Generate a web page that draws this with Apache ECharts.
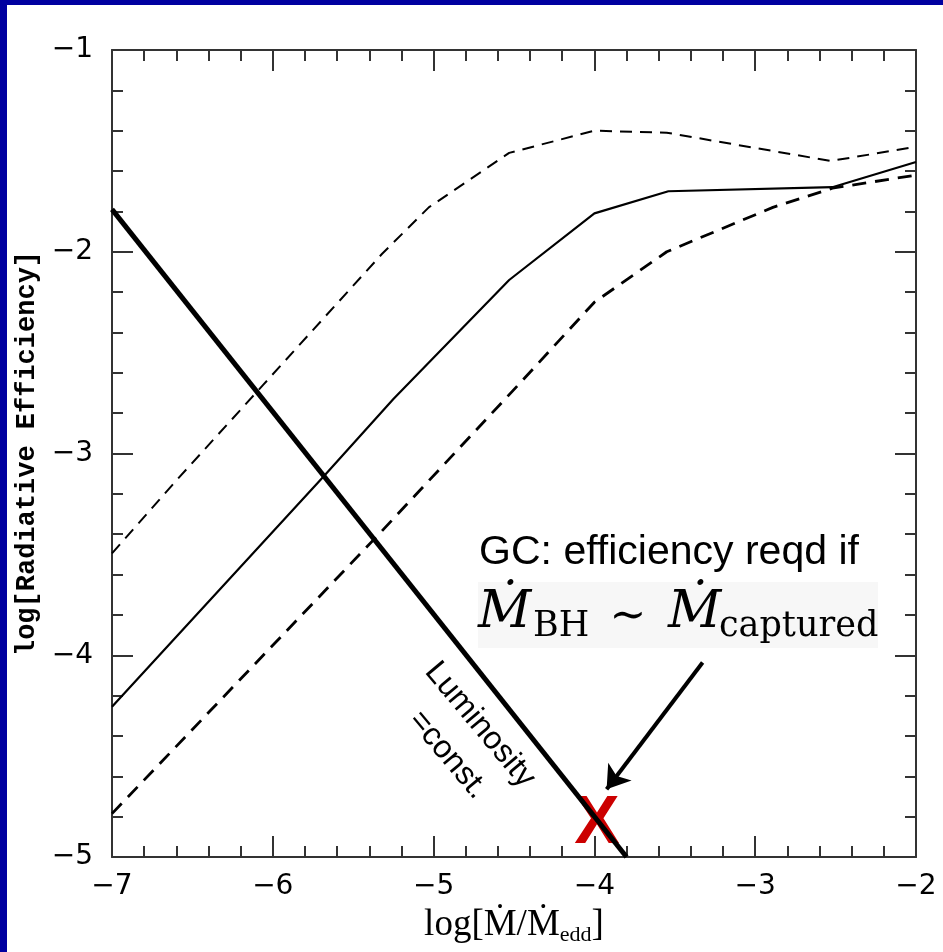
<!DOCTYPE html>
<html>
<head>
<meta charset="utf-8">
<script src="https://cdn.jsdelivr.net/npm/echarts@6/dist/echarts.min.js"></script>
<style>
html,body{margin:0;padding:0;background:#fff;}
#chart{width:943px;height:952px;}
</style>
</head>
<body>
<div id="chart"></div>
<script>
// ---- data ----
const xTicks = [-7, -6, -5, -4, -3, -2];
const yTicks = [-5, -4, -3, -2, -1];

const solidX = [-7.0, -5.68, -5.25, -4.53, -4.0, -3.54, -2.52, -2.0];
const solidY = [-4.255, -3.11, -2.73, -2.14, -1.81, -1.70, -1.68, -1.555];

const upperX = [-7.0, -6.59, -6.06, -5.32, -5.03, -4.53, -4.0, -3.55, -2.53, -2.0];
const upperY = [-3.495, -3.125, -2.66, -2.01, -1.78, -1.51, -1.40, -1.41, -1.55, -1.48];

const lowerX = [-7.0, -5.34, -4.45, -4.0, -3.55, -2.89, -2.52, -2.0];
const lowerY = [-4.785, -3.40, -2.64, -2.25, -2.00, -1.78, -1.685, -1.62];

const lumX = [-7.0, -3.8];
const lumY = [-1.79, -5.0];

const gcPoint = [-3.985, -4.822];
const arrowFrom = [-3.327, -4.036];
const arrowTo = [-3.924, -4.664];

const pairs = (xs, ys) => xs.map((x, i) => [x, ys[i]]);
const fmt = v => (v < 0 ? '\u2212' : '') + Math.abs(v);

const chart = echarts.init(document.getElementById('chart'), null, {renderer: 'canvas'});

const axisCommon = {
  type: 'value',
  interval: 1,
  axisLine: {show: true, onZero: false, lineStyle: {color: '#333', width: 2}},
  axisTick: {show: true, inside: true, length: 21, lineStyle: {color: '#333', width: 2}},
  minorTick: {show: true, splitNumber: 5, length: 11, lineStyle: {color: '#333', width: 2}},
  splitLine: {show: false},
  minorSplitLine: {show: false}
};

const option = {
  backgroundColor: '#fff',
  animation: false,
  grid: {left: 112, top: 50, right: 27, bottom: 95, containLabel: false},
  xAxis: [
    Object.assign({}, axisCommon, {
      min: -7, max: -2, position: 'bottom',
      axisLabel: {show: true, formatter: fmt, margin: 16, color: '#000',
        fontFamily: 'DejaVu Sans', fontSize: 28},
      name: '{a|log[\u1E40/\u1E40}{b|edd}{a|]}',
      nameLocation: 'middle', nameGap: 47,
      nameTextStyle: {
        rich: {
          a: {fontFamily: 'Liberation Serif', fontSize: 37, color: '#000', lineHeight: 42, verticalAlign: 'middle'},
          b: {fontFamily: 'Liberation Serif', fontSize: 22, color: '#000', lineHeight: 12, verticalAlign: 'bottom'}
        }
      }
    }),
    Object.assign({}, axisCommon, {
      min: -7, max: -2, position: 'top',
      axisLabel: {show: false}
    })
  ],
  yAxis: [
    Object.assign({}, axisCommon, {
      min: -5, max: -1, position: 'left',
      axisLabel: {show: true, formatter: fmt, margin: 19, color: '#000',
        fontFamily: 'DejaVu Sans', fontSize: 28},
      name: 'log[Radiative Efficiency]',
      nameLocation: 'middle', nameGap: 66,
      nameTextStyle: {fontFamily: 'Liberation Mono', fontWeight: 'bold', fontSize: 27, color: '#000'}
    }),
    Object.assign({}, axisCommon, {
      min: -5, max: -1, position: 'right',
      axisLabel: {show: false}
    })
  ],
  series: [
    {
      type: 'line', name: 'upper', data: pairs(upperX, upperY), z: 3,
      symbol: 'none', lineStyle: {color: '#000', width: 2, type: [12, 8]}, silent: true
    },
    {
      type: 'line', name: 'solid', data: pairs(solidX, solidY), z: 3,
      symbol: 'none', lineStyle: {color: '#000', width: 2.2}, silent: true
    },
    {
      type: 'line', name: 'lower', data: pairs(lowerX, lowerY), z: 3,
      symbol: 'none', lineStyle: {color: '#000', width: 2.8, type: [14, 9]}, silent: true
    },
    {
      type: 'line', name: 'luminosity', data: pairs(lumX, lumY), z: 3,
      symbol: 'none', lineStyle: {color: '#000', width: 5}, silent: true,
      markLine: {
        silent: true, animation: false,
        symbol: ['none', 'arrow'], symbolSize: 22,
        label: {show: false},
        lineStyle: {color: '#000', width: 4, type: 'solid'},
        data: [[{coord: arrowFrom}, {coord: arrowTo}]]
      }
    }
  ],
  graphic: [
    {type: 'rect', shape: {x: 0, y: 0, width: 943, height: 5}, style: {fill: '#0000a0'}, z: 100},
    {type: 'rect', shape: {x: 0, y: 0, width: 7, height: 952}, style: {fill: '#0000a0'}, z: 100},
    {type: 'text', x: 669, y: 553, style: {text: 'GC: efficiency reqd if', fill: '#000',
      font: '41px "Liberation Sans"', align: 'center', verticalAlign: 'middle'}, z: 50},
    {type: 'rect', shape: {x: 478, y: 582, width: 400, height: 66}, style: {fill: '#f7f7f7'}, z: 40},
    {type: 'text', x: 478, y: 613, style: {text: '\u1E40', fill: '#000',
      font: 'italic 52px "DejaVu Serif"', align: 'left', verticalAlign: 'middle'}, z: 50},
    {type: 'text', x: 533, y: 627, style: {text: 'BH', fill: '#000',
      font: '35px "DejaVu Serif"', align: 'left', verticalAlign: 'middle'}, z: 50},
    {type: 'text', x: 628, y: 618, style: {text: '\u223C', fill: '#000',
      font: '44px "DejaVu Serif"', align: 'center', verticalAlign: 'middle'}, z: 50},
    {type: 'text', x: 668, y: 613, style: {text: '\u1E40', fill: '#000',
      font: 'italic 52px "DejaVu Serif"', align: 'left', verticalAlign: 'middle'}, z: 50},
    {type: 'text', x: 719, y: 627, style: {text: 'captured', fill: '#000',
      font: '35px "DejaVu Serif"', align: 'left', verticalAlign: 'middle'}, z: 50},
    {type: 'text', x: 480, y: 725, rotation: -50 * Math.PI / 180, style: {text: 'Luminosity', fill: '#000',
      font: '32px "Liberation Sans"', align: 'center', verticalAlign: 'middle'}, z: 50},
    {type: 'text', x: 448, y: 755, rotation: -50 * Math.PI / 180, style: {text: '=const.', fill: '#000',
      font: '32px "Liberation Sans"', align: 'center', verticalAlign: 'middle'}, z: 50}
  ]
};

chart.setOption(option);

// red X placed at the data coordinate of the GC point, drawn beneath the lines
const gcPx = chart.convertToPixel({xAxisIndex: 0, yAxisIndex: 0}, gcPoint);
const g = option.graphic.slice();
g.push({type: 'text', x: gcPx[0], y: gcPx[1] + 3, z: 1, silent: true,
  style: {text: 'X', fill: '#cc0000', font: 'bold 68px "Liberation Sans"',
    align: 'center', verticalAlign: 'middle'}});
chart.setOption({graphic: g}, {replaceMerge: ['graphic']});
</script>
</body>
</html>
